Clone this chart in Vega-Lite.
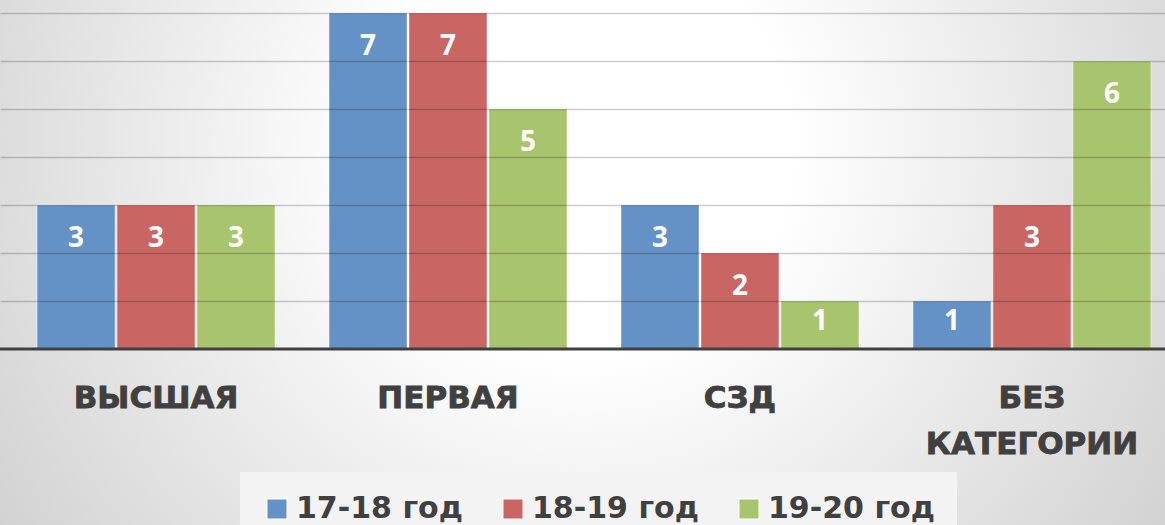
{
  "$schema": "https://vega.github.io/schema/vega-lite/v6.json",
  "width": 1165,
  "height": 525,
  "autosize": {"type": "none"},
  "padding": 0,
  "background": "#dcdcdc",
  "config": {"view": {"stroke": null}},
  "datasets": {
    "main": [
      {"cat": "ВЫСШАЯ", "series": "17-18 год", "value": 3},
      {"cat": "ВЫСШАЯ", "series": "18-19 год", "value": 3},
      {"cat": "ВЫСШАЯ", "series": "19-20 год", "value": 3},
      {"cat": "ПЕРВАЯ", "series": "17-18 год", "value": 7},
      {"cat": "ПЕРВАЯ", "series": "18-19 год", "value": 7},
      {"cat": "ПЕРВАЯ", "series": "19-20 год", "value": 5},
      {"cat": "СЗД", "series": "17-18 год", "value": 3},
      {"cat": "СЗД", "series": "18-19 год", "value": 2},
      {"cat": "СЗД", "series": "19-20 год", "value": 1},
      {"cat": "БЕЗ КАТЕГОРИИ", "series": "17-18 год", "value": 1},
      {"cat": "БЕЗ КАТЕГОРИИ", "series": "18-19 год", "value": 3},
      {"cat": "БЕЗ КАТЕГОРИИ", "series": "19-20 год", "value": 6}
    ],
    "bg": [{}]
  },
  "layer": [
    {
      "data": {"name": "bg"},
      "mark": {
        "type": "rect",
        "color": {
          "gradient": "radial",
          "x1": 0.5, "y1": 0.4, "r1": 0,
          "x2": 0.5, "y2": 0.4, "r2": 0.6,
          "stops": [
            {"offset": 0, "color": "#ffffff"},
            {"offset": 0.3, "color": "#ffffff"},
            {"offset": 1, "color": "#d2d2d2"}
          ]
        }
      },
      "encoding": {}
    },
    {
      "data": {"name": "main"},
      "mark": {"type": "bar", "stroke": "#ffffff", "strokeOpacity": 0.45, "strokeWidth": 1},
      "encoding": {
        "x": {
          "field": "cat", "type": "nominal", "sort": null, "axis": null,
          "scale": {"paddingInner": 0.185, "paddingOuter": 0.0875, "align": 0.725}
        },
        "xOffset": {
          "field": "series", "type": "nominal", "sort": null,
          "scale": {"paddingInner": 0.025, "paddingOuter": 0}
        },
        "y": {
          "field": "value", "type": "quantitative",
          "scale": {"domain": [-3.667, 7.271], "nice": false, "zero": false},
          "axis": {
            "values": [1, 2, 3, 4, 5, 6, 7],
            "grid": true, "gridColor": "#000000", "gridOpacity": 0.2, "gridWidth": 1.5,
            "labels": false, "ticks": false, "domain": false, "title": null,
            "zindex": 1
          }
        },
        "color": {
          "field": "series", "type": "nominal", "sort": null,
          "scale": {"range": ["#6592c6", "#c96562", "#a8c46c"]},
          "legend": {
            "orient": "none", "legendX": 240, "legendY": 472,
            "direction": "horizontal", "title": null,
            "symbolType": "square", "symbolSize": 400,
            "symbolStrokeColor": "#ffffff", "symbolStrokeWidth": 1,
            "labelFont": "DejaVu Sans", "labelFontWeight": "bold",
            "labelFontSize": 30, "labelColor": "#404040", "labelLimit": 400,
            "labelOffset": 4, "columnPadding": 35,
            "fillColor": "#f3f3f3", "padding": 22
          }
        }
      }
    },
    {
      "data": {"name": "bg"},
      "mark": {"type": "rule", "color": "#404040", "strokeWidth": 3},
      "encoding": {"y": {"datum": 0, "type": "quantitative"}}
    },
    {
      "data": {"name": "main"},
      "mark": {
        "type": "text", "font": "Open Sans", "fontWeight": "bold", "fontSize": 28,
        "color": "#ffffff", "baseline": "middle",
        "dy": {"expr": "datum.value == 1 ? 21 : 34"}
      },
      "encoding": {
        "x": {"field": "cat", "type": "nominal", "sort": null},
        "xOffset": {"field": "series", "type": "nominal", "sort": null},
        "y": {"field": "value", "type": "quantitative"},
        "text": {"field": "value", "type": "quantitative"}
      }
    },
    {
      "data": {"name": "main"},
      "transform": [{"filter": "datum.series == '17-18 год'"}],
      "mark": {
        "type": "text", "font": "DejaVu Sans", "fontWeight": "bold", "fontSize": 31,
        "color": "#404040", "stroke": "#404040", "strokeWidth": 0.8,
        "baseline": "top", "lineBreak": " ", "lineHeight": 46
      },
      "encoding": {
        "x": {"field": "cat", "type": "nominal", "sort": null},
        "y": {"datum": -0.729, "type": "quantitative"},
        "text": {"field": "cat", "type": "nominal"}
      }
    }
  ]
}
